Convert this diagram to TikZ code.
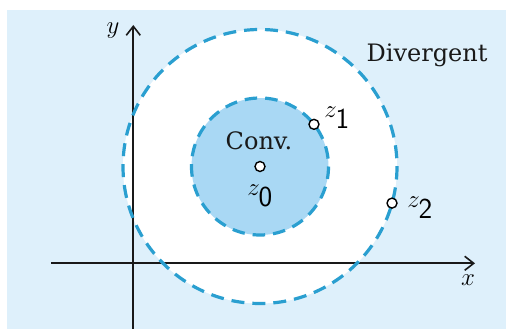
\documentclass[tikz,border=0pt]{standalone}
\usepackage{fontspec}
\newfontfamily\labelfont{DejaVu Serif}
\usetikzlibrary{arrows.meta,calc}
\definecolor{bgblue}{HTML}{DEF0FB}
\definecolor{convblue}{HTML}{A9D8F4}
\definecolor{dashblue}{HTML}{2A9FD0}
\begin{document}
\begin{tikzpicture}[x=1pt,y=-1pt,
  lbl/.style={font=\fontsize{29}{33}\selectfont, inner sep=0pt},
  word/.style={font=\labelfont\fontsize{24}{28}\selectfont, inner sep=0pt, text=black!90},
  ring/.style={draw=dashblue, line width=3.2pt},
  pt/.style={circle, draw=black, fill=white, line width=1.4pt, minimum size=10pt, inner sep=0pt},
  axis/.style={line width=1.8pt, draw=black!90, -{Straight Barb[length=9pt,width=14pt,line width=1.6pt]}}]
\useasboundingbox (0,0) rectangle (506,329);
\fill[bgblue] (7,10) rectangle (506,329);
\coordinate (c) at (260,166.5);
% outer white disk
\fill[white] (c) circle[radius=137];
% inner disk
\fill[convblue] (c) circle[radius=68.5];
% axes
\coordinate (xs) at (51,263.3);
\coordinate (xe) at (475,263.3);
\coordinate (ys) at (133.3,329);
\coordinate (ye) at (133.3,25);
\draw[axis] (xs) -- (xe);
\draw[axis] (ys) -- (ye);
% dashed rings
\draw[ring, dash pattern=on 13pt off 7.99pt] (c) circle[radius=137];
\draw[ring, dash pattern=on 12.5pt off 8pt] (c) circle[radius=68.5];
% points
\node[pt] (z0) at (c) {};
\node[pt] (z1) at ($(c)+(-38:68.5)$) {};
\node[pt] (z2) at ($(c)+(15.5:137)$) {};
% labels
\node[lbl] (ylbl) at (113,31) {$y$};
\node[lbl] (xlbl) at (468,280) {$x$};
\node[word] (div) at (427,55) {Divergent};
\node[word] (conv) at (259,141) {Conv.};
\node[lbl] (z0l) at (260,196) {$z_{\textsf{0}}$};
\node[lbl] (z1l) at (337,118) {$z_{\textsf{1}}$};
\node[lbl] (z2l) at (420,208) {$z_{\textsf{2}}$};
\end{tikzpicture}
\end{document}
